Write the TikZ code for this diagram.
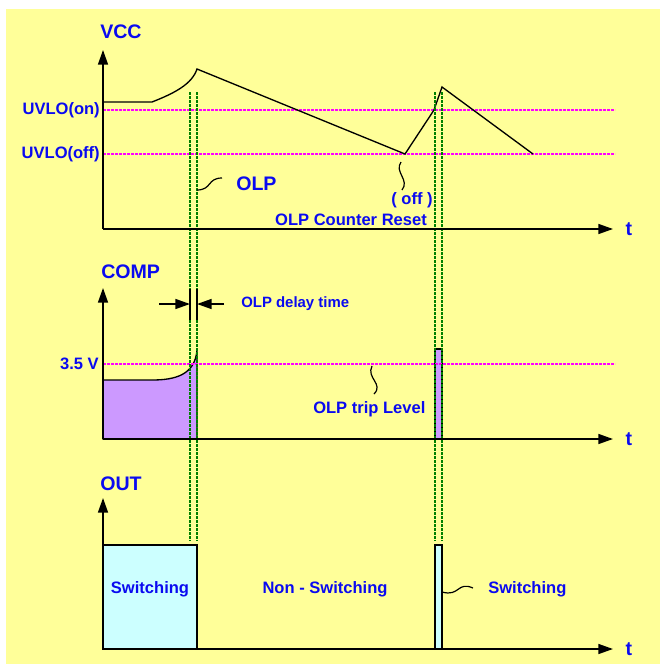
\documentclass[tikz,border=0pt]{standalone}
\usepackage{fontspec}
\setmainfont{Liberation Sans}
\usepackage{xcolor}
\usepackage{tikz}
\usetikzlibrary{positioning,calc,arrows.meta}

\definecolor{bgyellow}{RGB}{255,255,153}
\definecolor{compfill}{RGB}{204,153,255}
\definecolor{outfill}{RGB}{204,255,255}
\definecolor{lblblue}{RGB}{10,10,240}
\definecolor{olpgreen}{RGB}{0,128,0}
\definecolor{levelpink}{RGB}{255,0,255}

\tikzset{
	lbl/.style={text=lblblue,inner sep=0pt,font=\bfseries\fontsize{12.4}{14}\selectfont},
	biglbl/.style={lbl,font=\bfseries\fontsize{14.7}{17}\selectfont},
	smalllbl/.style={lbl,font=\bfseries\fontsize{11.2}{13}\selectfont},
	axis/.style={line width=1.1pt,-{Triangle[length=11pt,width=7.5pt]}},
	level/.style={levelpink,line width=2.2pt,dash pattern=on 2.2pt off 0.8pt},
	olpline/.style={olpgreen,line width=1.8pt,dash pattern=on 2.2pt off 0.8pt},
	wave/.style={line width=1pt},
	squig/.style={line width=0.9pt}
}

\begin{document}
\begin{tikzpicture}[x=0.75pt,y=-0.75pt]
								\def\ax{103}
								\def\tend{613}
								\useasboundingbox (0,0) rectangle (660,664);
								\fill[bgyellow] (6,9) rectangle (660,664);
								% fills
								\draw[wave,fill=compfill] (\ax,380) -- (152,380) .. controls (175,380) and (195,375) .. (197,350) -- (197,439) -- (\ax,439) -- cycle;
								\draw[wave,fill=compfill] (435,349) rectangle (442,439);
								\draw[wave,fill=outfill] (\ax,545) rectangle (197,649);
								\draw[wave,fill=outfill] (435,545) rectangle (442,649);
								% levels
								\node[lbl,anchor=east] (uvloon) at (100,110) {UVLO(on)};
								\node[lbl,anchor=east] (uvlooff) at (100,154) {UVLO(off)};
								\node[lbl,anchor=east] (trip) at (99,364) {3.5 V};
								\foreach \y in {110,154,364}
									\draw[level] (\ax,\y) -- (615,\y);
								% VCC
								\draw[wave] (\ax,102) -- (152,102) .. controls (175,93) and (192,84) .. (197,69) -- (405,154) -- (434,110) -- (442,87) -- (533,154);
								% OLP lines
								\foreach \x in {190,197,435,442}
									\draw[olpline] (\x,92) -- (\x,541);
								% axes
								\foreach \nm/\base/\top in {vcc/229/50,comp/439/288,out/649/498}{
									\coordinate (\nm0) at (\ax,\base);
									\draw[axis] (\nm0) -- (\ax,\top);
									\draw[axis] (\nm0) -- (\tend,\base);
									\node[biglbl] (t\nm) at (629,\base) {t};
								}
								\node[biglbl,anchor=west] (vcc) at (100,32) {VCC};
								\node[biglbl,anchor=west] (comp) at (101,272) {COMP};
								\node[biglbl,anchor=west] (out) at (100,484) {OUT};
								% labels
								\node[biglbl,anchor=west] (olp) at (236,184) {OLP};
								\draw[squig] (197,190) .. controls (212,190) and (207,178) .. ($(olp.west)+(-14,-6)$);
								\node[lbl] (reset) at (351,220) {OLP Counter Reset};
								\node[lbl] (off) at (412,200) {( off )};
								\draw[squig] (401,162) .. controls (394,172) and (410,180) .. (402,190);
								\draw[line width=1pt] (190,289) -- (190,320) (197,289) -- (197,320);
								\draw[axis] (159,304) -- (190,304);
								\draw[axis] (224,304) -- (197,304);
								\node[smalllbl,anchor=west] (delay) at (241,304) {OLP delay time};
								\node[lbl,anchor=west] (tripl) at (313,409) {OLP trip Level};
								\draw[squig] (372,366) .. controls (366,378) and (384,384) .. (374,394);
								\node[lbl] (sw1) at (150,589) {Switching};
								\node[lbl] (nsw) at (325,589) {Non - Switching};
								\node[lbl,anchor=west] (sw2) at (488,589) {Switching};
								\draw[squig] (442,592) .. controls (460,597) and (457,581) .. (473,588);
							\end{tikzpicture}
\end{document}
